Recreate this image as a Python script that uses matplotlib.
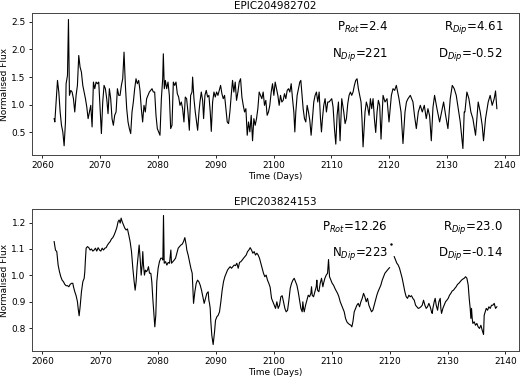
import numpy as np
import matplotlib
matplotlib.use("Agg")
import matplotlib.pyplot as plt

# ---------------- data: EPIC204982702 ----------------
title1 = "EPIC204982702"
t1 = [2062.02, 2062.14, 2062.60, 2062.83, 2063.06, 2063.29, 2063.52, 2063.75, 2063.98, 2064.09,
      2064.33, 2064.50, 2064.67, 2064.90, 2065.13, 2065.36, 2065.59, 2065.82, 2066.05, 2066.28,
      2066.51, 2066.74, 2066.98, 2067.21, 2067.44, 2067.67, 2067.90, 2068.13, 2068.36, 2068.59,
      2068.82, 2069.05, 2069.28, 2069.51, 2069.74, 2069.97, 2070.20, 2070.43, 2070.66, 2070.89,
      2071.12, 2071.35, 2071.58, 2071.81, 2072.04, 2072.27, 2072.50, 2072.74, 2072.97, 2073.20,
      2073.43, 2073.66, 2073.89, 2074.12, 2074.35, 2074.58, 2074.81, 2075.04, 2075.27, 2075.50,
      2075.73, 2075.96, 2076.19, 2076.42, 2076.65, 2076.88, 2077.11, 2077.34, 2077.57, 2077.80,
      2078.03, 2078.26, 2078.50, 2078.73, 2078.96, 2079.19, 2079.42, 2079.65, 2079.88, 2080.11,
      2080.34, 2080.58, 2080.81, 2080.92, 2081.09, 2081.27, 2081.50, 2081.73, 2081.96, 2082.19,
      2082.42, 2082.65, 2082.88, 2083.11, 2083.34, 2083.57, 2083.80, 2084.03, 2084.26, 2084.49,
      2084.72, 2084.95, 2085.18, 2085.42, 2085.65, 2085.88, 2085.99, 2086.22, 2086.45, 2086.68,
      2086.86, 2087.09, 2087.26, 2087.49, 2087.72, 2087.89, 2088.12, 2088.35, 2088.58, 2088.81,
      2089.04, 2089.22, 2089.45, 2089.68, 2089.91, 2090.14, 2090.37, 2090.60, 2090.83, 2091.06,
      2091.29, 2091.52, 2091.75, 2091.98, 2092.21, 2092.44, 2092.67, 2092.90, 2093.13, 2093.36,
      2093.59, 2093.83, 2094.06, 2094.29, 2094.52, 2094.75, 2094.98, 2095.21, 2095.44, 2095.67,
      2095.90, 2096.13, 2096.36, 2096.59, 2096.82, 2097.05, 2097.28, 2097.51, 2097.74, 2097.97,
      2098.20, 2098.43, 2098.66, 2098.89, 2099.12, 2099.35, 2099.59, 2099.82, 2100.05, 2100.28,
      2100.51, 2100.74, 2100.97, 2101.20, 2101.43, 2101.66, 2101.89, 2102.12, 2102.36, 2102.59,
      2102.82, 2103.05, 2103.28, 2103.51, 2103.68, 2103.85, 2104.08, 2104.31, 2104.54, 2104.72,
      2104.89, 2105.12, 2105.35, 2105.58, 2105.81, 2106.04, 2106.27, 2106.50, 2106.73, 2106.96,
      2107.19, 2107.42, 2107.65, 2107.89, 2108.12, 2108.29, 2108.46, 2108.69, 2108.92, 2109.15,
      2109.38, 2109.61, 2109.84, 2110.07, 2110.30, 2110.54, 2110.77, 2111.00, 2111.23, 2111.51,
      2111.80, 2112.15, 2112.38, 2112.61, 2112.84, 2113.07, 2113.30, 2113.53, 2113.76, 2113.99,
      2114.22, 2114.45, 2114.68, 2114.91, 2115.14, 2115.30, 2115.49, 2115.83, 2116.06, 2116.29,
      2116.53, 2116.76, 2116.99, 2117.22, 2117.45, 2117.68, 2117.91, 2118.14, 2118.37, 2118.60,
      2118.95, 2119.29, 2119.64, 2119.98, 2120.39, 2120.67, 2120.96, 2121.25, 2121.71, 2122.06,
      2122.40, 2122.75, 2123.00, 2123.27, 2123.67, 2124.13, 2124.40, 2124.71, 2125.05, 2125.40,
      2125.74, 2126.09, 2126.43, 2126.72, 2127.01, 2127.30, 2127.59, 2127.87, 2128.28, 2128.74,
      2129.08, 2129.43, 2129.78, 2130.18, 2130.58, 2130.93, 2131.27, 2131.62, 2131.96, 2132.31,
      2132.54, 2132.77, 2133.00, 2133.12, 2133.46, 2133.81, 2134.15, 2134.50, 2134.96, 2135.42,
      2135.77, 2136.11, 2136.34, 2136.69, 2137.15, 2137.49, 2137.84, 2138.19, 2138.42, 2138.65]
f1 = [0.75, 0.69, 1.44, 1.23, 0.87, 0.63, 0.51, 0.26, 0.69, 1.38,
      1.53, 2.54, 1.17, 1.26, 1.23, 1.11, 0.87, 1.17, 1.35, 1.89,
      1.68, 1.59, 1.35, 1.23, 1.11, 0.96, 0.75, 0.87, 0.99, 0.60,
      1.41, 1.29, 1.41, 1.38, 1.41, 0.93, 0.48, 1.05, 1.35, 1.29,
      1.11, 0.84, 1.29, 1.11, 0.75, 0.63, 0.81, 0.87, 1.29, 1.17,
      1.17, 1.35, 1.47, 1.95, 1.35, 0.93, 0.69, 0.57, 0.48, 0.87,
      1.05, 1.29, 1.47, 1.38, 1.44, 1.26, 0.93, 0.69, 0.99, 0.87,
      1.11, 1.17, 1.23, 1.26, 1.29, 1.23, 1.23, 0.81, 0.57, 0.51,
      0.45, 1.11, 1.47, 1.92, 1.29, 1.44, 1.29, 1.41, 1.17, 0.57,
      0.63, 1.41, 1.35, 1.41, 1.20, 1.14, 0.99, 1.05, 0.93, 0.69,
      1.14, 1.11, 0.87, 0.54, 1.17, 1.23, 1.50, 1.11, 0.87, 0.69,
      0.54, 0.87, 1.05, 1.23, 1.08, 0.75, 1.17, 1.26, 1.14, 1.17,
      0.87, 0.52, 1.05, 1.23, 1.14, 1.23, 1.17, 1.26, 1.35, 1.20,
      1.11, 1.17, 0.93, 0.69, 0.66, 0.87, 1.17, 1.44, 1.23, 1.41,
      1.08, 1.23, 1.41, 1.47, 1.14, 0.99, 0.87, 0.93, 0.45, 0.69,
      0.51, 0.81, 0.35, 0.75, 0.63, 0.75, 0.93, 1.23, 1.17, 1.11,
      1.23, 0.99, 1.08, 0.81, 0.87, 0.99, 1.23, 1.38, 1.17, 1.41,
      1.29, 1.17, 0.99, 1.17, 1.05, 1.08, 1.20, 1.11, 1.26, 1.29,
      1.23, 1.38, 1.11, 0.87, 0.51, 0.87, 1.17, 1.29, 1.41, 1.44,
      1.23, 0.93, 0.75, 0.69, 0.99, 0.87, 0.72, 0.45, 0.75, 1.05,
      1.17, 1.23, 1.05, 1.23, 0.75, 0.51, 0.75, 0.99, 1.11, 0.87,
      1.05, 1.05, 1.08, 1.11, 0.96, 0.57, 0.29, 0.81, 1.05, 0.35,
      1.11, 0.87, 0.66, 0.75, 1.02, 1.17, 1.23, 1.17, 1.23, 1.35,
      1.44, 1.47, 1.29, 1.17, 1.05, 0.75, 0.24, 0.87, 1.05, 0.96,
      0.81, 1.11, 0.93, 1.11, 0.75, 0.50, 0.87, 1.08, 0.99, 0.38,
      1.17, 1.05, 1.11, 0.69, 1.17, 1.29, 1.26, 1.35, 1.11, 0.87,
      0.30, 0.87, 1.05, 1.11, 1.17, 1.05, 0.80, 0.57, 0.87, 0.99,
      0.87, 0.99, 0.75, 0.93, 0.80, 0.35, 0.95, 1.17, 0.93, 0.69,
      0.87, 1.05, 0.81, 0.57, 1.11, 1.35, 1.29, 1.17, 0.93, 0.69,
      0.45, 0.21, 0.87, 0.87, 1.23, 1.11, 0.87, 0.75, 0.45, 1.05,
      0.87, 0.63, 0.35, 0.75, 1.05, 1.17, 0.99, 1.11, 1.25, 0.93]
labels1 = [r"P$_{Rot}$=2.4", r"R$_{Dip}$=4.61", r"N$_{Dip}$=221", r"D$_{Dip}$=-0.52"]

# ---------------- data: EPIC203824153 ----------------
title2 = "EPIC203824153"
t2 = [2062.02, 2062.25, 2062.48, 2062.71, 2062.94, 2063.17, 2063.40, 2063.63, 2063.86, 2064.09,
      2064.33, 2064.56, 2064.79, 2065.02, 2065.25, 2065.36, 2065.59, 2065.82, 2066.05, 2066.17,
      2066.34, 2066.51, 2066.74, 2066.98, 2067.21, 2067.32, 2067.44, 2067.55, 2067.78, 2068.01,
      2068.24, 2068.47, 2068.70, 2068.93, 2069.16, 2069.39, 2069.62, 2069.86, 2070.09, 2070.32,
      2070.55, 2070.78, 2071.01, 2071.24, 2071.47, 2071.70, 2071.93, 2072.16, 2072.39, 2072.62,
      2072.85, 2073.08, 2073.25, 2073.43, 2073.60, 2073.77, 2074.00, 2074.23, 2074.46, 2074.69,
      2074.92, 2075.15, 2075.39, 2075.62, 2075.85, 2076.02, 2076.19, 2076.36, 2076.54, 2076.71,
      2076.88, 2077.06, 2077.23, 2077.34, 2077.46, 2077.63, 2077.80, 2077.98, 2078.15, 2078.32,
      2078.50, 2078.73, 2078.90, 2079.07, 2079.24, 2079.42, 2079.59, 2079.76, 2079.99, 2080.22,
      2080.45, 2080.68, 2080.81, 2080.92, 2081.04, 2081.27, 2081.50, 2081.73, 2081.96, 2082.19,
      2082.30, 2082.53, 2082.77, 2083.00, 2083.23, 2083.46, 2083.69, 2083.92, 2084.15, 2084.38,
      2084.61, 2084.84, 2084.95, 2085.18, 2085.42, 2085.65, 2085.88, 2085.99, 2086.11, 2086.34,
      2086.57, 2086.80, 2087.03, 2087.26, 2087.49, 2087.72, 2087.95, 2088.18, 2088.41, 2088.64,
      2088.76, 2088.87, 2088.99, 2089.10, 2089.27, 2089.50, 2089.74, 2089.91, 2090.14, 2090.37,
      2090.60, 2090.83, 2091.06, 2091.29, 2091.52, 2091.75, 2091.98, 2092.21, 2092.44, 2092.67,
      2092.90, 2093.13, 2093.36, 2093.59, 2093.83, 2094.06, 2094.29, 2094.52, 2094.75, 2094.98,
      2095.21, 2095.44, 2095.67, 2095.90, 2096.13, 2096.36, 2096.59, 2096.82, 2097.05, 2097.28,
      2097.51, 2097.74, 2097.97, 2098.20, 2098.43, 2098.66, 2098.89, 2099.12, 2099.35, 2099.59,
      2099.82, 2100.05, 2100.28, 2100.51, 2100.74, 2100.97, 2101.20, 2101.43, 2101.66, 2101.89,
      2102.12, 2102.36, 2102.59, 2102.82, 2103.05, 2103.28, 2103.51, 2103.74, 2103.97, 2104.20,
      2104.43, 2104.66, 2104.89, 2105.00, 2105.12, 2105.24, 2105.47, 2105.70, 2105.93, 2106.16,
      2106.39, 2106.50, 2106.62, 2106.85, 2107.08, 2107.31, 2107.42, 2107.54, 2107.77, 2108.00,
      2108.23, 2108.46, 2108.58, 2108.81, 2109.04, 2109.27, 2109.44, 2109.61, 2109.84, 2110.07,
      2110.30, 2110.54, 2110.77, 2111.00, 2111.23, 2111.46, 2111.69, 2111.92, 2112.15, 2112.38,
      2112.61, 2112.84, 2113.07, 2113.30, 2113.47, 2113.65, 2113.88, 2114.11, 2114.34, 2114.57,
      2114.80, 2115.03, 2115.26, 2115.49, 2115.72, 2115.95, 2116.18, 2116.41, 2116.64, 2116.87,
      2117.10, 2117.33, 2117.56, 2117.79, 2117.99, 2118.25, 2118.48, 2118.72, 2118.95, 2119.18,
      2119.40, 2119.62, 2119.80, 2119.98, 2120.30, 2120.79, 2121.02, 2121.25, 2121.48, 2121.71,
      2121.94, 2122.17, 2122.40, 2122.63, 2122.86, 2123.09, 2123.32, 2123.55, 2123.78, 2124.01,
      2124.25, 2124.48, 2124.71, 2124.94, 2125.17, 2125.40, 2125.63, 2125.86, 2126.09, 2126.32,
      2126.55, 2126.78, 2127.01, 2127.24, 2127.36, 2127.47, 2127.70, 2127.87, 2128.05, 2128.28,
      2128.51, 2128.74, 2128.85, 2128.97, 2129.20, 2129.43, 2129.66, 2129.89, 2130.12, 2130.35,
      2130.58, 2130.81, 2131.04, 2131.27, 2131.50, 2131.73, 2131.96, 2132.19, 2132.42, 2132.65,
      2132.89, 2133.12, 2133.35, 2133.58, 2133.75, 2133.92, 2134.04, 2134.15, 2134.27, 2134.38,
      2134.61, 2134.84, 2135.07, 2135.30, 2135.53, 2135.77, 2136.00, 2136.23, 2136.34, 2136.51,
      2136.69, 2136.92, 2137.15, 2137.38, 2137.61, 2137.84, 2138.07, 2138.30, 2138.53]
f2 = [1.128, 1.096, 1.090, 1.039, 1.014, 0.995, 0.982, 0.976, 0.966, 0.961,
      0.961, 0.957, 0.966, 0.970, 0.970, 0.957, 0.938, 0.923, 0.900, 0.875,
      0.847, 0.881, 0.938, 0.976, 0.989, 1.014, 1.065, 1.103, 1.109, 1.105,
      1.096, 1.100, 1.092, 1.096, 1.103, 1.092, 1.105, 1.096, 1.092, 1.103,
      1.096, 1.103, 1.105, 1.115, 1.122, 1.128, 1.138, 1.143, 1.153, 1.166,
      1.181, 1.204, 1.210, 1.198, 1.217, 1.204, 1.191, 1.179, 1.172, 1.176,
      1.153, 1.128, 1.090, 1.027, 0.976, 0.944, 0.976, 1.033, 1.077, 1.115,
      1.065, 1.001, 1.039, 1.090, 1.039, 1.001, 1.020, 1.014, 1.020, 1.033,
      1.008, 1.008, 0.976, 0.913, 0.862, 0.805, 0.849, 0.976, 1.027, 1.052,
      1.065, 1.065, 1.058, 1.227, 1.046, 1.052, 1.039, 1.049, 1.046, 1.096,
      1.046, 1.052, 1.058, 1.065, 1.084, 1.103, 1.109, 1.115, 1.118, 1.128,
      1.143, 1.115, 1.096, 1.077, 1.052, 1.027, 1.008, 0.951, 0.894, 0.938,
      0.970, 0.982, 0.976, 0.963, 0.944, 0.919, 0.894, 0.913, 0.932, 0.938,
      0.906, 0.894, 0.875, 0.824, 0.773, 0.738, 0.786, 0.830, 0.843, 0.849,
      0.862, 0.900, 0.944, 0.976, 0.995, 1.008, 1.020, 1.027, 1.033, 1.027,
      1.033, 1.039, 1.037, 1.046, 1.027, 1.049, 1.052, 1.058, 1.065, 1.071,
      1.077, 1.090, 1.096, 1.105, 1.096, 1.084, 1.090, 1.077, 1.084, 1.077,
      1.065, 1.046, 1.027, 1.008, 0.995, 1.001, 0.982, 0.970, 0.955, 0.913,
      0.900, 0.887, 0.875, 0.900, 0.875, 0.887, 0.919, 0.923, 0.900, 0.875,
      0.862, 0.868, 0.906, 0.951, 0.970, 0.982, 0.989, 0.976, 0.963, 0.938,
      0.906, 0.875, 0.862, 0.900, 0.875, 0.862, 0.887, 0.906, 0.925, 0.919,
      0.932, 0.957, 0.925, 0.919, 0.938, 0.957, 0.982, 0.944, 0.938, 0.970,
      0.989, 0.957, 0.970, 0.989, 1.001, 1.008, 1.060, 0.995, 0.982, 0.970,
      0.963, 0.951, 0.941, 0.932, 0.919, 0.900, 0.887, 0.875, 0.862, 0.837,
      0.824, 0.818, 0.814, 0.811, 0.805, 0.824, 0.862, 0.875, 0.887, 0.894,
      0.881, 0.900, 0.913, 0.932, 0.919, 0.900, 0.913, 0.887, 0.875, 0.862,
      0.868, 0.887, 0.906, 0.925, 0.938, 0.951, 0.963, 0.982, 0.995, 1.008,
      1.014, 1.020, 1.025, 1.029, np.nan, 1.071, 1.058, 1.046, 1.039, 1.027,
      1.008, 0.989, 0.963, 0.938, 0.919, 0.913, 0.925, 0.919, 0.923, 0.913,
      0.906, 0.887, 0.881, 0.875, 0.877, 0.881, 0.887, 0.906, 0.887, 0.875,
      0.881, 0.894, 0.881, 0.862, 0.856, 0.875, 0.900, 0.913, 0.887, 0.868,
      0.900, 0.913, 0.875, 0.856, 0.875, 0.887, 0.900, 0.906, 0.913, 0.925,
      0.932, 0.941, 0.944, 0.951, 0.957, 0.966, 0.970, 0.976, 0.982, 0.986,
      0.989, 0.995, 0.989, 0.963, 0.913, 0.875, 0.837, 0.875, 0.837, 0.818,
      0.824, 0.811, 0.818, 0.805, 0.799, 0.811, 0.792, 0.776, 0.849, 0.862,
      0.875, 0.868, 0.881, 0.875, 0.887, 0.887, 0.894, 0.875, 0.881]
dot_t2 = [2120.20]
dot_f2 = [1.120]
labels2 = [r"P$_{Rot}$=12.26", r"R$_{Dip}$=23.0", r"N$_{Dip}$=223", r"D$_{Dip}$=-0.14"]

xticks = [2060, 2070, 2080, 2090, 2100, 2110, 2120, 2130, 2140]

W, H = 520, 378
fig = plt.figure(figsize=(W / 100, H / 100), dpi=100)

def make_axes(top_px, bottom_px):
    left_px, right_px = 32, 519
    return fig.add_axes([left_px / W, 1 - bottom_px / H,
                         (right_px - left_px) / W, (bottom_px - top_px) / H])

ax1 = make_axes(13, 155)
ax2 = make_axes(209, 351)

def style(ax, title, labels, ypos):
    ax.set_title(title, fontsize=7.5, pad=3)
    ax.set_xlabel("Time (Days)", fontsize=6.5, labelpad=1)
    ax.set_ylabel("Normalised Flux", fontsize=6.5, labelpad=2)
    ax.set_xticks(xticks)
    ax.tick_params(labelsize=6.5, length=2.5, width=0.6, pad=2)
    for s in ax.spines.values():
        s.set_linewidth(0.7)
        s.set_color("#444444")
    ax.text(0.731, ypos[0], labels[0], transform=ax.transAxes, ha="right", va="center", fontsize=8.5)
    ax.text(0.967, ypos[0], labels[1], transform=ax.transAxes, ha="right", va="center", fontsize=8.5)
    ax.text(0.731, ypos[1], labels[2], transform=ax.transAxes, ha="right", va="center", fontsize=8.5)
    ax.text(0.967, ypos[1], labels[3], transform=ax.transAxes, ha="right", va="center", fontsize=8.5)

ax1.plot(t1, f1, color="black", lw=0.8)
style(ax1, title1, labels1, (0.90, 0.71))

ax2.plot(t2, f2, color="black", lw=0.8)
ax2.plot(dot_t2, dot_f2, linestyle="none", marker=".", color="black", ms=1.5)
style(ax2, title2, labels2, (0.87, 0.69))

fig.savefig("out.png", dpi=100)
